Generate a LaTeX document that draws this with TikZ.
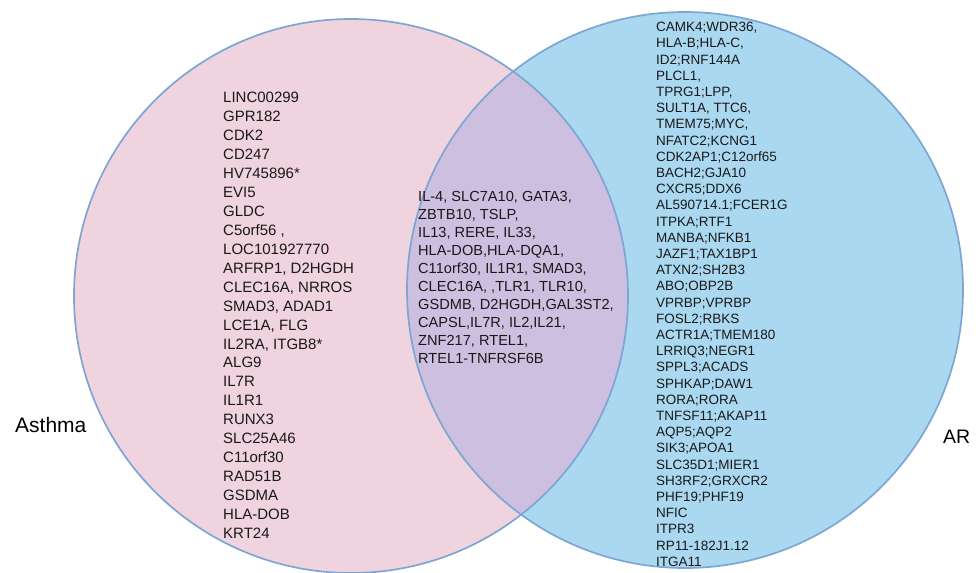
\documentclass[tikz,border=0pt]{standalone}
\usepackage{fontspec}
\setmainfont{Liberation Sans}
\definecolor{pinkfill}{HTML}{EFD3DF}
\definecolor{bluefill}{HTML}{AAD8F1}
\definecolor{overlapfill}{HTML}{CDBFE0}
\definecolor{edgeblue}{HTML}{7EA6D3}
\tikzset{
  genelist/.style={anchor=north west, inner sep=0pt, align=left, text=black!90},
  bigfont/.style={font=\fontsize{15}{18.95}\selectfont},
  midfont/.style={font=\fontsize{14.6}{18}\selectfont},
  smallfont/.style={font=\fontsize{13.5}{16.2}\selectfont},
  setlabel/.style={anchor=base west, inner sep=0pt, font=\fontsize{19.5}{22}\selectfont},
  ring/.style={draw=edgeblue, line width=1.7pt}
}
\begin{document}
\begin{tikzpicture}[x=1pt,y=-1pt]
\clip (0,0) rectangle (978,573);
\fill[white] (0,0) rectangle (978,573);
\coordinate (cl) at (351,296);
\coordinate (cr) at (685,290);
\fill[pinkfill] (cl) circle[radius=277];
\fill[bluefill] (cr) circle[radius=278];
\begin{scope}
  \clip (cl) circle[radius=277];
  \fill[overlapfill] (cr) circle[radius=278];
\end{scope}
\draw[ring] (cl) circle[radius=277];
\draw[ring] (cr) circle[radius=278];

\node[genelist,bigfont] (leftlist) at (223,92) {LINC00299\\GPR182\\CDK2\\CD247\\HV745896*\\EVI5\\GLDC\\C5orf56 ,\\LOC101927770\\ARFRP1, D2HGDH\\CLEC16A, NRROS\\SMAD3, ADAD1\\LCE1A, FLG\\IL2RA, ITGB8*\\ALG9\\IL7R\\IL1R1\\RUNX3\\SLC25A46\\C11orf30\\RAD51B\\GSDMA\\HLA-DOB\\KRT24};

\node[genelist,midfont] (midlist) at (418,191) {IL-4, SLC7A10, GATA3,\\ZBTB10, TSLP,\\IL13, RERE, IL33,\\HLA-DOB,HLA-DQA1,\\C11orf30, IL1R1, SMAD3,\\CLEC16A, ,TLR1, TLR10,\\GSDMB, D2HGDH,GAL3ST2,\\CAPSL,IL7R, IL2,IL21,\\ZNF217, RTEL1,\\RTEL1-TNFRSF6B};

\node[genelist,smallfont] (rightlist) at (656,22) {CAMK4;WDR36,\\HLA-B;HLA-C,\\ID2;RNF144A\\PLCL1,\\TPRG1;LPP,\\SULT1A, TTC6,\\TMEM75;MYC,\\NFATC2;KCNG1\\CDK2AP1;C12orf65\\BACH2;GJA10\\CXCR5;DDX6\\AL590714.1;FCER1G\\ITPKA;RTF1\\MANBA;NFKB1\\JAZF1;TAX1BP1\\ATXN2;SH2B3\\ABO;OBP2B\\VPRBP;VPRBP\\FOSL2;RBKS\\ACTR1A;TMEM180\\LRRIQ3;NEGR1\\SPPL3;ACADS\\SPHKAP;DAW1\\RORA;RORA\\TNFSF11;AKAP11\\AQP5;AQP2\\SIK3;APOA1\\SLC35D1;MIER1\\SH3RF2;GRXCR2\\PHF19;PHF19\\NFIC\\ITPR3\\RP11-182J1.12\\ITGA11};

\node[setlabel,font=\fontsize{21}{24}\selectfont] (asthma) at (15,432) {Asthma};
\node[setlabel] (ar) at (943,443) {AR};
\end{tikzpicture}
\end{document}
